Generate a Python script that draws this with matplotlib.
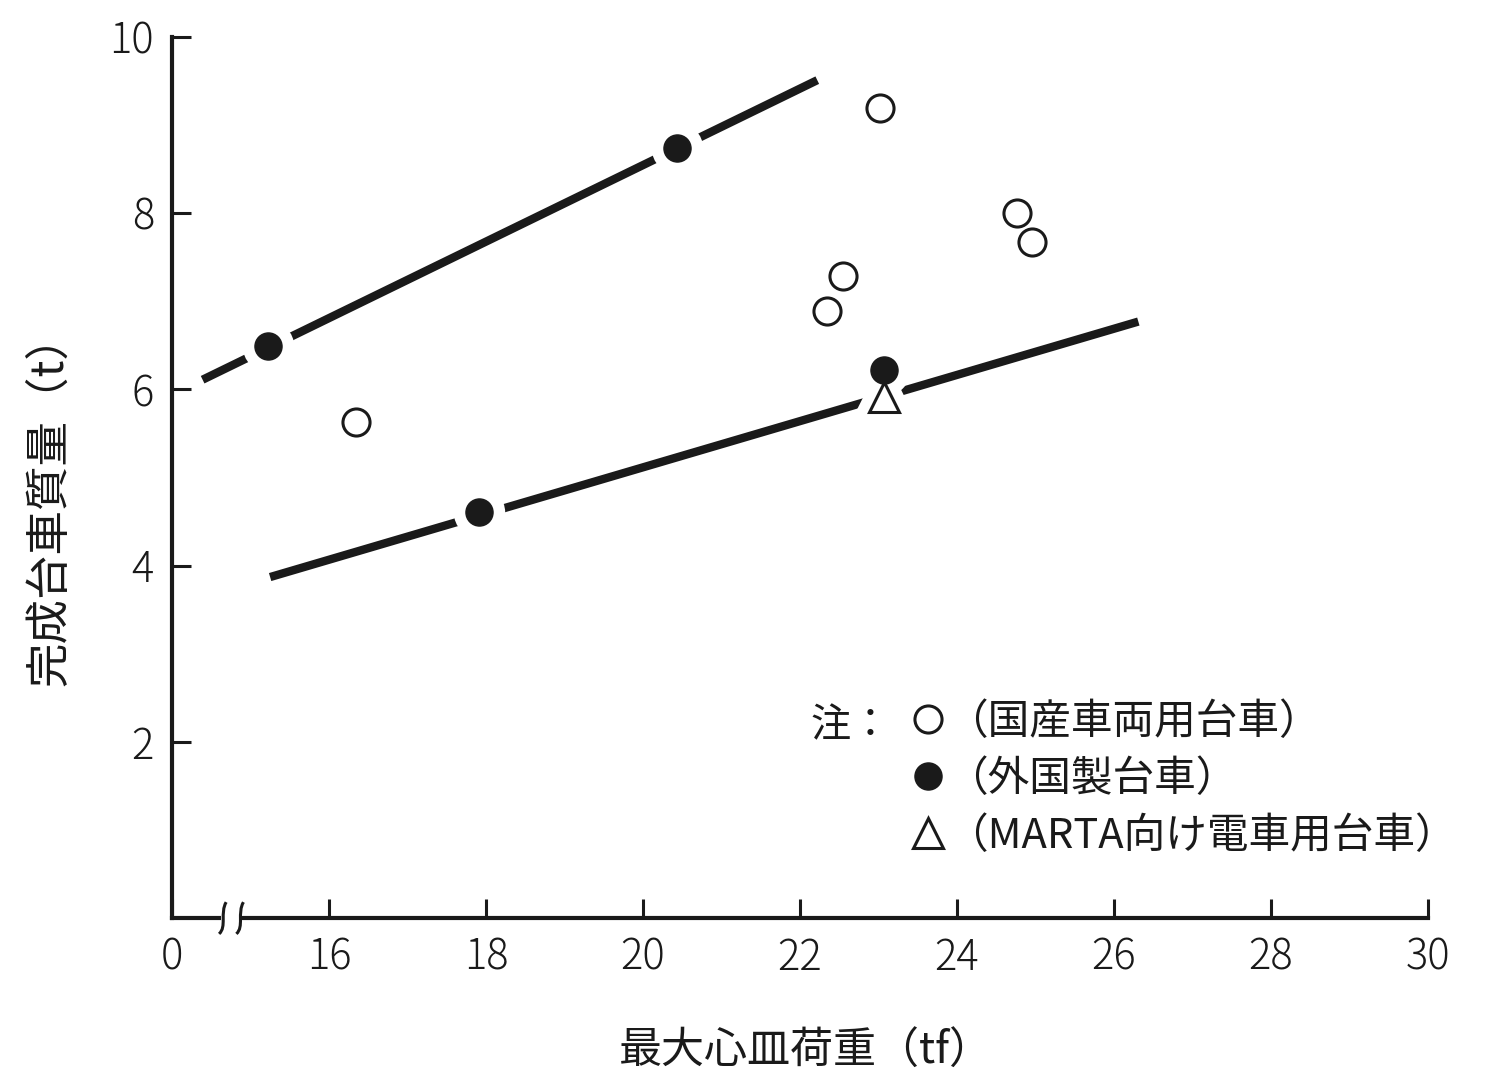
import matplotlib
matplotlib.use("Agg")
import matplotlib.pyplot as plt
from matplotlib.patches import Rectangle, PathPatch
from matplotlib.path import Path
import matplotlib.transforms as mtransforms

plt.rcParams['font.family'] = ['Noto Sans CJK JP', 'DejaVu Sans']

# ---- data (x in tf, y in t); axis 0 is drawn at the break position 14 ----
open_x = [16.34, 22.34, 22.55, 23.02, 24.76, 24.96]
open_y = [5.63, 6.89, 7.29, 9.19, 8.00, 7.67]
filled_x = [15.22, 17.91, 20.43, 23.07]
filled_y = [6.49, 4.61, 8.74, 6.22]
tri_x = [23.07]
tri_y = [5.91]
upper_line_x = [14.39, 22.22]
upper_line_y = [6.11, 9.51]
lower_line_x = [15.25, 26.31]
lower_line_y = [3.87, 6.77]

x_tick_pos = [14, 16, 18, 20, 22, 24, 26, 28, 30]
x_tick_labels = ['0', '16', '18', '20', '22', '24', '26', '28', '30']
y_tick_pos = [2, 4, 6, 8, 10]
y_tick_labels = ['2', '4', '6', '8', '10']

labels = ['（国産車両用台車）', '（外国製台車）', '（MARTA向け電車用台車）']
xlabel = '最大心皿荷重（tf）'
ylabel = '完成台車質量（t）'

ink = '#1a1a1a'

fig = plt.figure(figsize=(14.91, 10.79), dpi=100)
ax = fig.add_axes([172/1491, 1-918/1079, 1256/1491, 881/1079])
ax.set_xlim(14, 30)
ax.set_ylim(0, 10)

for s in ['top', 'right']:
    ax.spines[s].set_visible(False)
for s in ['left', 'bottom']:
    ax.spines[s].set_linewidth(3)
    ax.spines[s].set_color(ink)

ax.set_xticks(x_tick_pos)
ax.set_xticklabels(x_tick_labels)
ax.set_yticks(y_tick_pos)
ax.set_yticklabels(y_tick_labels)
ax.tick_params(direction='in', length=14, width=2.2, color=ink,
               labelsize=30, labelcolor=ink, pad=13)
for t in ax.get_xticklabels() + ax.get_yticklabels():
    t.set_fontweight('light')

# trend lines
ax.plot(upper_line_x, upper_line_y, color=ink, lw=6, solid_capstyle='butt', zorder=2)
ax.plot(lower_line_x, lower_line_y, color=ink, lw=6, solid_capstyle='butt', zorder=2)

# white halos breaking the lines around markers
ax.plot(filled_x, filled_y, 'o', ms=37, color='white', mew=0, zorder=3)
ax.plot(tri_x, tri_y, '^', ms=21, mfc='white', mec='white', mew=17, zorder=3)

# markers
ax.plot(open_x, open_y, 'o', ms=19.5, mfc='white', mec=ink, mew=2.2, zorder=4,
        label=labels[0])
ax.plot(filled_x, filled_y, 'o', ms=19.5, mfc=ink, mec=ink, mew=1, zorder=4,
        label=labels[1])
ax.plot(tri_x, tri_y, '^', ms=21, mfc='white', mec=ink, mew=2.2, zorder=5,
        label=labels[2])

leg = ax.legend(loc='upper left', bbox_to_anchor=(909/1491, 1-702/1079),
                bbox_transform=fig.transFigure, frameon=False, fontsize=30,
                handlelength=0.9, handletextpad=0.0, labelspacing=0.38,
                borderpad=0, borderaxespad=0)
for t in leg.get_texts():
    t.set_color(ink)

ax.text((810-172)/1256, (918-726)/881, '注：', transform=ax.transAxes,
        fontsize=29, color=ink, ha='left', va='center')

# axis labels
ax.set_xlabel(xlabel, fontsize=31, color=ink)
ax.xaxis.set_label_coords((806-172)/1256, (918-1030)/881)
ax.set_ylabel(ylabel, fontsize=32, color=ink)
ax.yaxis.set_label_coords((72-172)/1256, (918-500)/881)

# axis break on the x axis
trans = mtransforms.blended_transform_factory(ax.transData, ax.transAxes)
ax.add_patch(Rectangle((14.63, -0.012), 0.22, 0.024, transform=trans,
                       facecolor='white', edgecolor='none', clip_on=False, zorder=6))
for bx in [14.65, 14.87]:
    verts = [(bx - 0.05, -0.018), (bx + 0.05, -0.010), (bx - 0.04, 0.006), (bx + 0.04, 0.018)]
    p = Path(verts, [Path.MOVETO, Path.CURVE4, Path.CURVE4, Path.CURVE4])
    ax.add_patch(PathPatch(p, transform=trans, facecolor='none', edgecolor=ink,
                           lw=2.2, clip_on=False, zorder=7))

fig.savefig('out.png', dpi=100, facecolor='white')
